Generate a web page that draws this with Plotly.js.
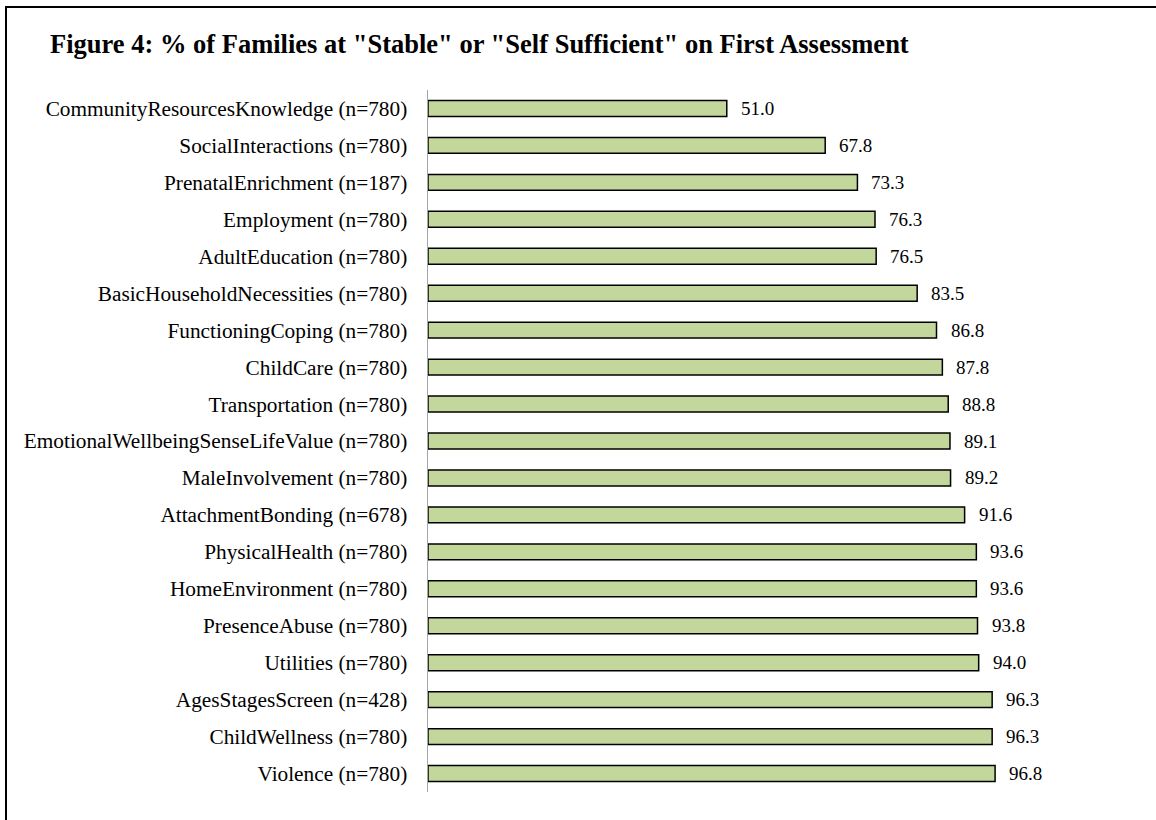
<!DOCTYPE html>
<html>
<head>
<meta charset="utf-8">
<script src="https://cdn.plot.ly/plotly-3.0.1.min.js"></script>
<style>
html,body{margin:0;padding:0;background:#fff;overflow:hidden;}
#wrap{position:relative;width:1156px;height:820px;}
#chart{position:absolute;left:0;top:0;width:1156px;height:820px;}
#frame{position:absolute;left:5px;top:6px;width:1300px;height:1000px;border:2px solid #000;pointer-events:none;}
</style>
</head>
<body>
<div id="wrap"><div id="chart"></div><div id="frame"></div></div>
<script>
const categories = [
  "CommunityResourcesKnowledge (n=780)",
  "SocialInteractions (n=780)",
  "PrenatalEnrichment (n=187)",
  "Employment (n=780)",
  "AdultEducation (n=780)",
  "BasicHouseholdNecessities (n=780)",
  "FunctioningCoping (n=780)",
  "ChildCare (n=780)",
  "Transportation (n=780)",
  "EmotionalWellbeingSenseLifeValue (n=780)",
  "MaleInvolvement (n=780)",
  "AttachmentBonding (n=678)",
  "PhysicalHealth (n=780)",
  "HomeEnvironment (n=780)",
  "PresenceAbuse (n=780)",
  "Utilities (n=780)",
  "AgesStagesScreen (n=428)",
  "ChildWellness (n=780)",
  "Violence (n=780)"
];
const values = [51.0, 67.8, 73.3, 76.3, 76.5, 83.5, 86.8, 87.8, 88.8, 89.1, 89.2, 91.6, 93.6, 93.6, 93.8, 94.0, 96.3, 96.3, 96.8];
const titleText = 'Figure 4: % of Families at "Stable" or "Self Sufficient" on First Assessment';

const serif = "'Liberation Serif', 'Times New Roman', serif";

const trace = {
  type: 'bar',
  orientation: 'h',
  x: values,
  y: categories,
  marker: {color: '#c3d69b', line: {color: '#000000', width: 1.5}},
  hoverinfo: 'none'
};

const annotations = values.map((v, i) => ({
  x: v, y: categories[i], xref: 'x', yref: 'y',
  text: v.toFixed(1), showarrow: false,
  xanchor: 'left', xshift: 12,
  font: {family: serif, size: 19, color: '#000'}
}));

const layout = {
  width: 1156, height: 820,
  paper_bgcolor: '#ffffff', plot_bgcolor: '#ffffff',
  margin: {l: 428, r: 25, t: 90, b: 28},
  title: {text: '<b>' + titleText + '</b>', x: 50/1156, xanchor: 'left', xref: 'container',
          y: 1 - 44/820, yanchor: 'middle', yref: 'container',
          font: {family: serif, size: 26.5, color: '#000'}},
  bargap: 0.57,
  xaxis: {range: [0, 120], visible: false, fixedrange: true},
  yaxis: {autorange: 'reversed', type: 'category', showline: true, linecolor: '#a6a6a6', linewidth: 1.5,
          ticks: '', showgrid: false, zeroline: false, ticklabelstandoff: 15,
          tickfont: {family: serif, size: 21.3, color: '#000'}},
  annotations: annotations,
  showlegend: false
};

Plotly.newPlot('chart', [trace], layout, {displayModeBar: false, staticPlot: true});
</script>
</body>
</html>
